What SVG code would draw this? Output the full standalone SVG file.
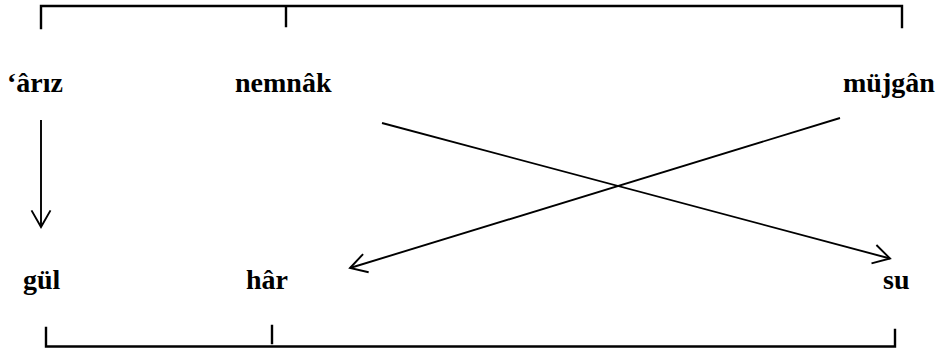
<svg xmlns="http://www.w3.org/2000/svg" width="939" height="352" viewBox="0 0 939 352">
<style>
.lbl{font-family:"Liberation Serif","Times New Roman",serif;font-weight:bold;font-size:28px;fill:#000}
.br{stroke:#000;stroke-width:2.4;fill:none;stroke-linecap:square}
.ar{stroke:#000;stroke-width:1.9;fill:none}
</style>
<defs>
<marker id="ah" markerUnits="userSpaceOnUse" markerWidth="40" markerHeight="40" viewBox="-20 -20 40 40" refX="0" refY="0" orient="auto" overflow="visible">
<path d="M-16.6,-9.5 L0,0 L-16.6,9.5" fill="none" stroke="#000" stroke-width="1.9"/>
</marker>
</defs>
<rect width="939" height="352" fill="#fff"/>
<g id="bracket-top">
<path class="br" d="M41,28 V6 H902 V27 M286,6 V26"/>
</g>
<g id="bracket-bottom">
<path class="br" d="M46,328 V346.5 H895 V330 M272,326 V343"/>
</g>
<g id="node-ariz"><text class="lbl" x="7" y="92">‘ârız</text></g>
<g id="node-nemnak"><text class="lbl" x="235" y="92">nemnâk</text></g>
<g id="node-mujgan"><text class="lbl" x="843" y="92">müjgân</text></g>
<g id="node-gul"><text class="lbl" x="23" y="289">gül</text></g>
<g id="node-har"><text class="lbl" x="246" y="289">hâr</text></g>
<g id="node-su"><text class="lbl" x="883" y="289">su</text></g>
<g id="connectors">
<line class="ar" x1="41" y1="120" x2="41" y2="227" marker-end="url(#ah)"/>
<line class="ar" x1="382" y1="123" x2="890" y2="258.5" marker-end="url(#ah)"/>
<line class="ar" x1="840" y1="118" x2="350" y2="268" marker-end="url(#ah)"/>
</g>
</svg>
